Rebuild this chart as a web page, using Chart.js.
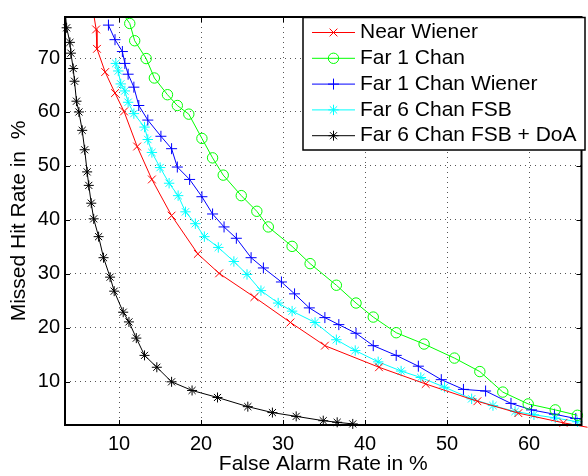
<!DOCTYPE html>
<html>
<head>
<meta charset="utf-8">
<script src="https://cdn.jsdelivr.net/npm/chart.js@4"></script>
<style>
  html, body { margin: 0; padding: 0; background: #fff; }
  canvas { display: block; }
</style>
</head>
<body>
<canvas id="chartRoc" width="588" height="476"></canvas>
<script>
// curvas (x = falsa alarma %, y = missed hit %)
const xTicks = [10, 20, 30, 40, 50, 60];
const yTicks = [10, 20, 30, 40, 50, 60, 70];

const seriesNames = ['Near Wiener', 'Far 1 Chan', 'Far 1 Chan Wiener', 'Far 6 Chan FSB', 'Far 6 Chan FSB + DoA'];

const nearWienerX = [6.7, 7.2, 7.3, 8.3, 9.5, 10.6, 12.2, 14.0, 16.4, 19.6, 22.2, 26.5, 30.9, 35.1, 41.7, 47.4, 53.7, 58.7, 64.2, 68.5];
const nearWienerY = [80, 75.3, 71.7, 67.4, 63.5, 60.1, 53.6, 47.5, 40.8, 33.7, 30.1, 25.7, 21.0, 16.7, 12.7, 9.6, 6.4, 4.2, 2.4, 1.2];

const far1X = [9.6, 11.3, 11.9, 13.3, 14.3, 15.9, 17.1, 18.5, 20.1, 21.4, 22.7, 24.9, 26.8, 28.2, 31.1, 33.3, 36.5, 38.9, 41.0, 43.8, 47.2, 50.9, 54.0, 56.8, 59.9, 63.2, 65.9];
const far1Y = [80, 76.4, 73.2, 69.9, 66.3, 63.2, 61.2, 59.6, 55.1, 51.5, 48.3, 44.5, 41.6, 38.7, 35.1, 31.9, 27.9, 24.6, 22.0, 19.1, 17.0, 14.4, 11.9, 8.1, 5.9, 4.8, 3.8];

const far1WienerX = [8.7, 9.5, 10.4, 10.7, 11.1, 11.8, 12.4, 13.5, 15.1, 16.4, 17.1, 18.6, 20.1, 21.4, 22.8, 24.3, 26.1, 27.6, 29.8, 31.4, 33.2, 35.1, 36.8, 38.9, 41.0, 43.8, 46.5, 49.3, 52.0, 54.7, 57.8, 60.3, 63.1, 65.7];
const far1WienerY = [76.1, 73.4, 71.2, 69.0, 67.0, 64.6, 61.2, 58.5, 55.5, 53.2, 49.8, 47.5, 44.3, 41.1, 38.7, 36.6, 33.0, 31.1, 28.5, 26.3, 23.7, 21.9, 20.6, 19.0, 16.7, 14.9, 12.9, 10.4, 8.6, 8.3, 6.0, 4.8, 4.0, 3.2];

const far6FsbX = [9.6, 9.9, 10.2, 10.7, 11.1, 11.8, 13.1, 13.5, 14.0, 15.0, 16.1, 17.2, 18.1, 19.3, 20.4, 22.1, 24.0, 25.6, 27.3, 29.4, 31.1, 33.9, 36.5, 38.8, 41.6, 44.4, 46.8, 49.7, 53.0, 55.6, 58.3, 60.6, 63.2, 65.9];
const far6FsbY = [69.0, 67.6, 65.2, 63.9, 61.8, 59.7, 57.2, 54.9, 52.5, 49.7, 46.8, 44.5, 41.5, 39.3, 36.9, 34.9, 32.3, 29.9, 26.9, 24.6, 23.1, 21.0, 17.8, 15.8, 13.7, 12.0, 10.8, 9.0, 6.85, 5.6, 4.5, 3.9, 3.3, 2.6];

const far6DoaX = [3.35, 3.6, 4.0, 4.12, 4.4, 4.56, 4.8, 5.1, 5.5, 5.8, 6.1, 6.3, 6.6, 6.9, 7.5, 8.1, 8.9, 9.4, 10.5, 11.2, 12.1, 13.1, 14.6, 16.4, 18.9, 22.0, 25.7, 28.7, 31.6, 34.9, 36.6, 38.5];
const far6DoaY = [80, 75.6, 72.9, 70.9, 68.05, 65.7, 62.0, 60.0, 56.6, 53.0, 48.9, 46.4, 43.1, 40.2, 36.9, 33.0, 29.4, 26.8, 22.9, 21.1, 18.1, 14.9, 12.7, 10.0, 8.4, 7.1, 5.4, 4.3, 3.6, 2.8, 2.5, 2.2];

const FONT = '"Liberation Sans", Arial, Helvetica, sans-serif';

function toPoints(xs, ys) {
  return xs.map((x, i) => ({ x: x, y: ys[i] }));
}

function makeSet(label, xs, ys, color, style, radius) {
  return {
    label: label,
    data: toPoints(xs, ys),
    showLine: true,
    borderColor: color,
    backgroundColor: color,
    borderWidth: 1,
    pointStyle: style,
    pointRadius: radius,
    pointBorderColor: color,
    pointBackgroundColor: 'rgba(0,0,0,0)',
    pointBorderWidth: 1,
    clip: { left: 6, top: 0, right: 6, bottom: 5 }
  };
}

// caja de ejes estilo matlab + leyenda dentro del gráfico
const boxPlugin = {
  id: 'boxPlugin',
  afterDraw(chart) {
    const { ctx, chartArea: a, scales: { x, y } } = chart;
    ctx.save();
    ctx.strokeStyle = '#000';
    ctx.lineWidth = 1;
    ctx.beginPath();
    xTicks.forEach(v => {
      const px = Math.round(x.getPixelForValue(v)) + 0.5;
      ctx.moveTo(px, a.bottom); ctx.lineTo(px, a.bottom - 5);
      ctx.moveTo(px, a.top); ctx.lineTo(px, a.top + 5);
    });
    yTicks.forEach(v => {
      const py = Math.round(y.getPixelForValue(v)) + 0.5;
      ctx.moveTo(a.left, py); ctx.lineTo(a.left + 5, py);
      ctx.moveTo(a.right, py); ctx.lineTo(a.right - 5, py);
    });
    ctx.stroke();
    ctx.lineWidth = 2;
    ctx.strokeRect(a.left, a.top, a.right - a.left, a.bottom - a.top);

    // leyenda
    const lx = 303, ly = 17.5, lw = 282, lh = 132.5;
    ctx.fillStyle = '#fff';
    ctx.fillRect(lx, ly, lw, lh);
    ctx.lineWidth = 1.5;
    ctx.strokeStyle = '#000';
    ctx.strokeRect(lx, ly, lw, lh);
    ctx.font = '21px ' + FONT;
    ctx.textBaseline = 'middle';
    ctx.textAlign = 'left';
    chart.data.datasets.forEach((ds, i) => {
      const cy = ly + 15 + i * 25.8;
      ctx.strokeStyle = ds.borderColor;
      ctx.lineWidth = 1;
      ctx.beginPath();
      ctx.moveTo(312, cy); ctx.lineTo(355, cy);
      ctx.stroke();
      ctx.fillStyle = 'rgba(0,0,0,0)';
      Chart.helpers.drawPoint(ctx, { pointStyle: ds.pointStyle, radius: ds.pointRadius, borderWidth: 1, rotation: 0 }, 333.5, cy);
      ctx.fillStyle = '#000';
      ctx.fillText(ds.label, 360, cy);
    });
    ctx.restore();
  }
};

const gridOpts = { color: '#555', lineWidth: 1, drawTicks: false, borderDash: [1, 4] };
const borderOpts = { display: false, dash: [1, 4] };

const ctxRoc = document.getElementById('chartRoc');
window.chartRocInst = new Chart(ctxRoc, {
  type: 'scatter',
  data: {
    datasets: [
      makeSet(seriesNames[0], nearWienerX, nearWienerY, '#ff0000', 'crossRot', 5.5),
      makeSet(seriesNames[1], far1X, far1Y, '#00ff00', 'circle', 5.2),
      makeSet(seriesNames[2], far1WienerX, far1WienerY, '#0000ff', 'cross', 5.5),
      makeSet(seriesNames[3], far6FsbX, far6FsbY, '#00ffff', 'star', 5.2),
      makeSet(seriesNames[4], far6DoaX, far6DoaY, '#000000', 'star', 5)
    ]
  },
  options: {
    responsive: false,
    animation: false,
    events: [],
    layout: { padding: { top: 10, right: -2, left: 0, bottom: 0 } },
    plugins: { legend: { display: false }, tooltip: { enabled: false } },
    scales: {
      x: {
        type: 'linear',
        min: 3.4,
        max: 66.4,
        afterBuildTicks: s => { s.ticks = xTicks.map(v => ({ value: v })); },
        afterFit: s => { s.height = 51; },
        grid: gridOpts,
        border: borderOpts,
        ticks: { color: '#000', padding: 7, maxRotation: 0, font: { family: FONT, size: 20, lineHeight: 1.2 } },
        title: { display: true, text: 'False Alarm Rate in %', color: '#000', padding: { top: 0, bottom: 1 }, font: { family: FONT, size: 21, lineHeight: 1 } }
      },
      y: {
        type: 'linear',
        min: 2,
        max: 77.6,
        afterBuildTicks: s => { s.ticks = yTicks.map(v => ({ value: v })); },
        afterFit: s => { s.width = 65; },
        grid: gridOpts,
        border: borderOpts,
        ticks: { color: '#000', padding: 5, font: { family: FONT, size: 20, lineHeight: 1.2 } },
        title: { display: true, text: 'Missed Hit Rate in  %', color: '#000', padding: { top: 7, bottom: 0 }, font: { family: FONT, size: 21, lineHeight: 1.2 } }
      }
    }
  },
  plugins: [boxPlugin]
});
</script>
</body>
</html>
